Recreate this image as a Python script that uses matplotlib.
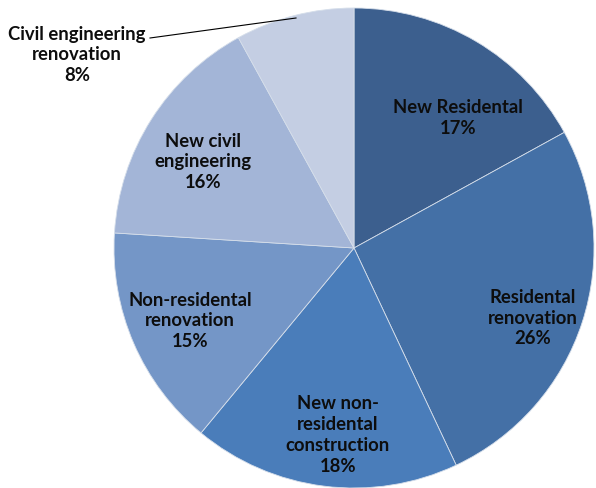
import matplotlib.pyplot as plt

# dados
labels = ['New Residental', 'Residental\nrenovation', 'New non-\nresidental\nconstruction',
          'Non-residental\nrenovation', 'New civil\nengineering', 'Civil engineering\nrenovation']
shares = [17, 26, 18, 15, 16, 8]
colors = ['#3c5f8e', '#4470a6', '#4a7dba', '#7496c7', '#a3b5d7', '#c4cee3']

# posicoes dos rotulos (pixels, origem em cima)
label_pos = [(458, 118), (533, 318), (338, 435), (190, 321), (203, 162), (77, 55)]

W, H = 596, 488
fig = plt.figure(figsize=(W / 100, H / 100), dpi=100)
ax = fig.add_axes([0, 0, 1, 1])

ax.pie(shares, colors=colors, startangle=90, counterclock=False,
       center=(354, H - 248), radius=240,
       wedgeprops=dict(edgecolor='#d5deea', linewidth=0.6))

for lab, v, (px, py) in zip(labels, shares, label_pos):
    ax.text(px, H - py, f'{lab}\n{v}%', ha='center', va='center',
            fontsize=13.3, fontweight='bold', family='Lato', color='#0d0d0d',
            linespacing=1.27)

# linha guia do rotulo de fora
ax.plot([150, 296], [H - 38, H - 18], color='black', lw=0.8)

ax.set_xlim(0, W)
ax.set_ylim(0, H)
ax.set_aspect('equal')
ax.axis('off')
fig.savefig('out.png', dpi=100)
